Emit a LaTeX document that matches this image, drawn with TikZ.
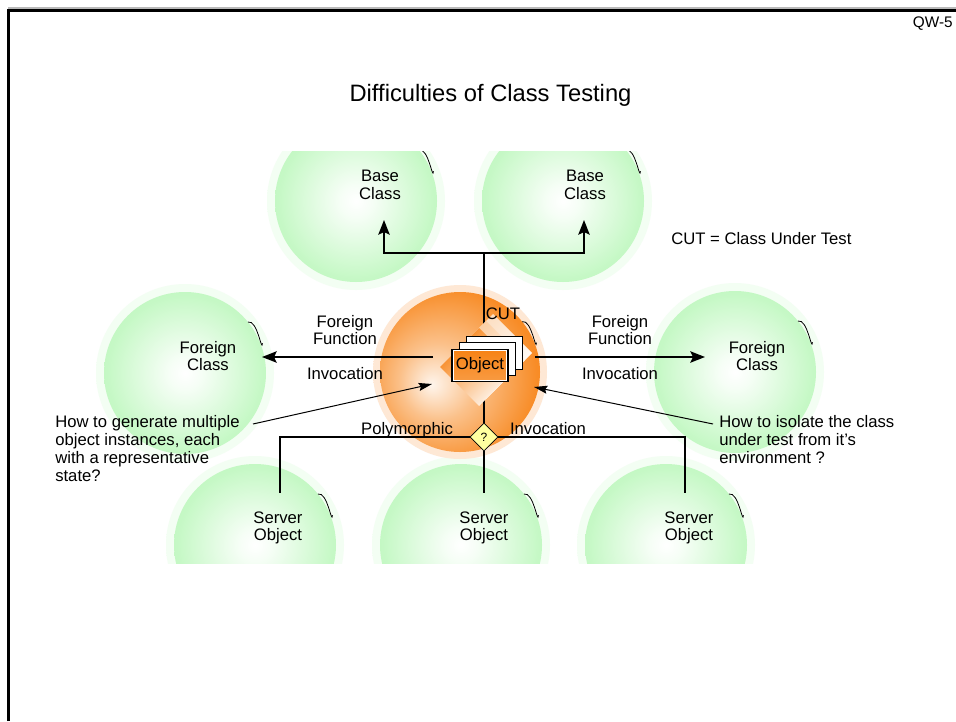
\documentclass[tikz,border=0pt]{standalone}
\usepackage{fontspec}
\setmainfont{Liberation Sans}
\usetikzlibrary{arrows.meta,shapes.geometric,calc}

\definecolor{ballgreen}{RGB}{178,246,178}
\definecolor{cutorange}{RGB}{247,130,20}
\definecolor{qyellow}{RGB}{255,255,160}

% soft balls: white core fading to the rim colour, with a pale halo outside
\pgfdeclareradialshading{greenball}{\pgfpoint{0bp}{0bp}}{color(0bp)=(white); color(5bp)=(ballgreen!12!white); color(24bp)=(ballgreen!75!white); color(40bp)=(ballgreen); color(50bp)=(ballgreen)}
\pgfdeclareradialshading{greenhalo}{\pgfpoint{0bp}{0bp}}{color(0bp)=(ballgreen!16!white); color(45bp)=(ballgreen!16!white); color(50bp)=(white)}
\pgfdeclareradialshading{cutball}{\pgfpoint{-9bp}{-4bp}}{color(0bp)=(cutorange!8!white); color(12bp)=(cutorange!50!white); color(28bp)=(cutorange!92!white); color(40bp)=(cutorange); color(50bp)=(cutorange)}
\pgfdeclareradialshading{cuthalo}{\pgfpoint{0bp}{0bp}}{color(0bp)=(cutorange!18!white); color(45bp)=(cutorange!18!white); color(50bp)=(white)}

% a green ball with its little rim curl, centred on a named coordinate
\newcommand\greenball[1]{%
  \shade[shading=greenhalo] (#1) circle[radius=89];
  \shade[shading=greenball] (#1) circle[radius=81];
  \draw[curl] ($(#1)+(-39:81)$) to[out=15,in=-95] ($(#1)+(-21:83)$);}

\begin{document}
\begin{tikzpicture}[x=0.75pt,y=-0.75pt,
  lbl/.style={font=\fontsize{12.5}{13.2}\selectfont, align=center, inner sep=0pt},
  qtext/.style={font=\fontsize{12.5}{13.3}\selectfont, align=left, inner sep=0pt, anchor=north west},
  conn/.style={line width=1.7pt},
  tipped/.style={conn, -{Stealth[length=11pt,width=8.5pt,inset=2pt]}},
  pointer/.style={line width=0.75pt, -{Stealth[length=10pt,width=6pt,inset=1.5pt]}},
  curl/.style={line width=0.6pt},
  qdiamond/.style={diamond, draw, line width=0.6pt, fill=qyellow, minimum width=21pt, minimum height=21pt, inner sep=0pt, font=\fontsize{9}{9}\selectfont},
  backcard/.style={draw, line width=0.7pt, fill=white}]

\useasboundingbox (0,0) rectangle (956,721);
\fill[white] (0,0) rectangle (956,721);

% page frame
\draw[gray!55, line width=0.8pt] (8,8) -- (956,8);
\draw[line width=2pt] (8.7,721) -- (8.7,10.3) -- (956,10.3);

% ball centres
\coordinate (cB1) at (356,201);
\coordinate (cB2) at (563,201);
\coordinate (cFL) at (185,373);
\coordinate (cFR) at (735,372);
\coordinate (cS1) at (255,545);
\coordinate (cS2) at (461,545);
\coordinate (cS3) at (666,545);
\coordinate (cCUT) at (460,372);

% base classes (cut off at the top)
\begin{scope}
  \clip (0,151) rectangle (956,721);
  \greenball{cB1}
  \greenball{cB2}
\end{scope}

% foreign classes
\greenball{cFL}
\greenball{cFR}

% server objects (cut off at the bottom)
\begin{scope}
  \clip (0,0) rectangle (956,563);
  \greenball{cS1}
  \greenball{cS2}
  \greenball{cS3}
\end{scope}

% class under test
\shade[shading=cuthalo] (cCUT) circle[radius=87];
\shade[shading=cutball] (cCUT) circle[radius=80];
\draw[curl] ($(cCUT)+(-39:80)$) to[out=15,in=-95] ($(cCUT)+(-21:82)$);

% connector end points
\coordinate (hub) at (484,253);
\coordinate (toB1) at (384,220);
\coordinate (toB2) at (584,220);
\coordinate (cutW) at (433,357);
\coordinate (toFL) at (262,357);
\coordinate (cutE) at (535,357);
\coordinate (toFR) at (705,357);
\coordinate (toS1) at (280,493);
\coordinate (toS2) at (484,493);
\coordinate (toS3) at (685,493);
\coordinate (qLfrom) at (253,424);
\coordinate (qLto) at (432,384);
\coordinate (qRfrom) at (713,424);
\coordinate (qRto) at (534,387);

\node[qdiamond] (q) at (484,437) {?};

% inheritance
\draw[tipped] (hub) -| (toB1);
\draw[tipped] (hub) -| (toB2);
\draw[conn] (hub) -- (q.north);

% foreign function invocation
\draw[tipped] (cutW) -- (toFL);
\draw[tipped] (cutE) -- (toFR);

% polymorphic invocation of the servers
\draw[conn] (q.west) -| (toS1);
\draw[conn] (q.south) -- (toS2);
\draw[conn] (q.east) -| (toS3);

% stacked object icon
\foreach \k/\tc in {2/cutorange!30!white, 1/cutorange!45!white, 0/cutorange} {
  \begin{scope}[shift={(7*\k,-7*\k)}]
    \shade[top color=\tc, bottom color=white, shading angle=45]
      (440,367) -- (479,328) -- (518,367) -- (479,406) -- cycle;
  \end{scope}
}
\draw[backcard] (466,336) rectangle (522,369);
\draw[backcard] (459,342) rectangle (515,375);
\node[draw, line width=0.8pt, top color=cutorange, bottom color=cutorange!80!white,
      minimum width=42pt, minimum height=24.5pt, inner sep=0pt] (obj) at (480,365.5) {};
\draw[white, line width=0.7pt] ($(obj.south west)+(2,-2)$) rectangle ($(obj.north east)+(-2,2)$);
\node[lbl] (objtext) at (obj) {Object};

% questions
\node[qtext] (qL) at (55,415.5) {How to generate multiple\\object instances, each\\with a representative\\state?};
\node[qtext] (qR) at (719,415.5) {How to isolate the class\\under test from it's\\environment ?};
\draw[pointer] (qLfrom) -- (qLto);
\draw[pointer] (qRfrom) -- (qRto);

% labels
\node[font=\fontsize{17.8}{20}\selectfont, anchor=base, inner sep=0pt] (title) at (490.5,101) {Difficulties of Class Testing};
\node[font=\fontsize{11.5}{12}\selectfont, anchor=base east, inner sep=0pt] (pageid) at (953,27) {QW-5};
\node[lbl, anchor=base west] (legend) at (671,244) {CUT = Class Under Test};

\node[lbl] (lB1) at (380,185) {Base\\Class};
\node[lbl] (lB2) at (585,185) {Base\\Class};
\node[lbl] (lFL) at (208,356) {Foreign\\Class};
\node[lbl] (lFR) at (757,356) {Foreign\\Class};
\node[lbl] (lS1) at (278,528) {Server\\Object};
\node[lbl] (lS2) at (484,528) {Server\\Object};
\node[lbl] (lS3) at (689,528) {Server\\Object};

\node[lbl, anchor=base] (lcut) at (503,319) {CUT};
\node[lbl] (ffL) at (345,330) {Foreign\\Function};
\node[lbl, anchor=base] (invL) at (345,379) {Invocation};
\node[lbl] (ffR) at (620,330) {Foreign\\Function};
\node[lbl, anchor=base] (invR) at (620,379) {Invocation};
\node[lbl, anchor=base] (poly) at (407,434) {Polymorphic};
\node[lbl, anchor=base] (invB) at (548,434) {Invocation};

\end{tikzpicture}
\end{document}
